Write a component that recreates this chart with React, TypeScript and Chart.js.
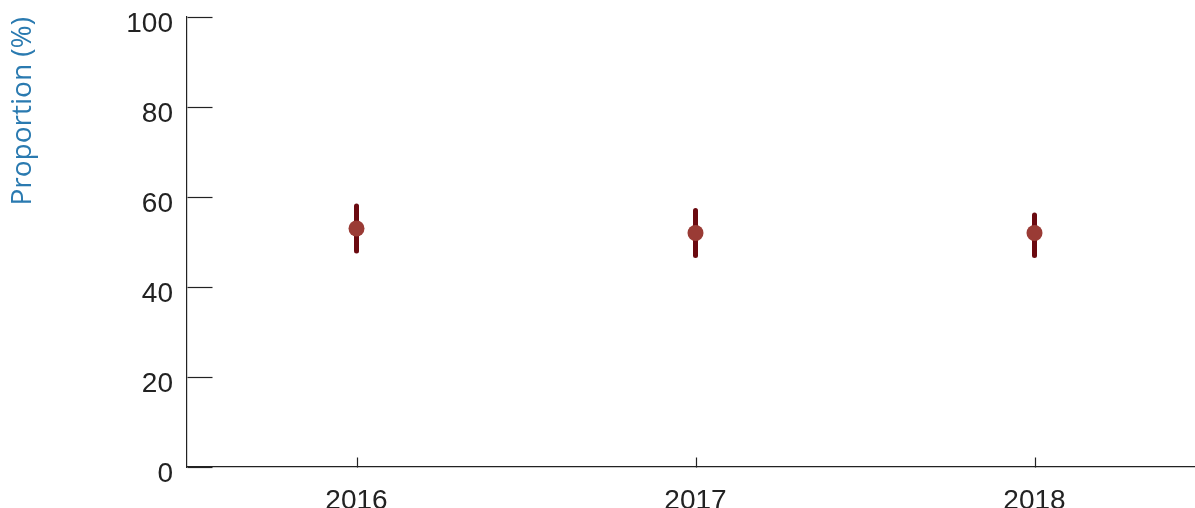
import React, { useEffect, useRef } from "react";
import { Chart, registerables, Plugin } from "chart.js";

Chart.register(...registerables);

// Survey years and the estimated proportion with its confidence interval
const YEARS = ["2016", "2017", "2018"];
const PROPORTION = [53, 52, 52];
const LOWER = [48, 47, 47];
const UPPER = [58, 57, 56];

// Y-axis ticks
const Y_TICKS = [0, 20, 40, 60, 80, 100];

const AXIS_COLOR = "#222222";
const POINT_COLOR = "#9a3b35";
const BAR_COLOR = "#6b0a10";
const TITLE_COLOR = "#2a7ab0";

// Vertical interval bars behind each point
const errorBars: Plugin = {
  id: "errorBars",
  beforeDatasetsDraw(chart) {
    const { ctx } = chart;
    const x = chart.scales.x;
    const y = chart.scales.y;
    ctx.save();
    ctx.strokeStyle = BAR_COLOR;
    ctx.lineWidth = 5;
    ctx.lineCap = "round";
    YEARS.forEach((_, i) => {
      const px = x.getPixelForValue(i);
      ctx.beginPath();
      ctx.moveTo(px, y.getPixelForValue(LOWER[i]));
      ctx.lineTo(px, y.getPixelForValue(UPPER[i]));
      ctx.stroke();
    });
    ctx.restore();
  },
};

// Tick marks pointing into the plot area
const innerTicks: Plugin = {
  id: "innerTicks",
  beforeDatasetsDraw(chart) {
    const { ctx } = chart;
    const x = chart.scales.x;
    const y = chart.scales.y;
    ctx.save();
    ctx.strokeStyle = AXIS_COLOR;
    ctx.lineWidth = 1.2;
    const left = Math.round(x.left) + 0.5;
    Y_TICKS.forEach((v) => {
      const py = Math.round(y.getPixelForValue(v)) + 0.5;
      ctx.beginPath();
      ctx.moveTo(left, py);
      ctx.lineTo(left + 25, py);
      ctx.stroke();
    });
    const bottom = Math.round(y.bottom) + 0.5;
    YEARS.forEach((_, i) => {
      const px = Math.round(x.getPixelForValue(i)) + 0.5;
      ctx.beginPath();
      ctx.moveTo(px, bottom);
      ctx.lineTo(px, bottom - 10);
      ctx.stroke();
    });
    ctx.restore();
  },
};

export default function App() {
  const canvasRef = useRef<HTMLCanvasElement | null>(null);

  useEffect(() => {
    if (!canvasRef.current) return;
    const chart = new Chart(canvasRef.current, {
      type: "line",
      data: {
        labels: YEARS,
        datasets: [
          {
            data: PROPORTION,
            showLine: false,
            pointRadius: 8,
            pointHoverRadius: 8,
            pointBackgroundColor: POINT_COLOR,
            pointBorderWidth: 0,
            borderColor: POINT_COLOR,
          },
        ],
      },
      options: {
        animation: false,
        responsive: false,
        maintainAspectRatio: false,
        layout: { autoPadding: false, padding: { top: 17, right: 0, left: 0, bottom: 0 } },
        plugins: {
          legend: { display: false },
          tooltip: { enabled: false },
        },
        scales: {
          x: {
            type: "category",
            offset: true,
            grid: { display: false, drawTicks: false },
            border: { display: true, color: AXIS_COLOR, width: 1.2 },
            ticks: {
              padding: 17,
              color: AXIS_COLOR,
              font: { family: "'Liberation Sans', Arial, sans-serif", size: 28 },
            },
            afterFit(scale) {
              scale.height = 41;
              scale.paddingLeft = 0;
              scale.paddingRight = 0;
            },
          },
          y: {
            type: "linear",
            min: 0,
            max: 100,
            grid: { display: false, drawTicks: false },
            border: { display: true, color: AXIS_COLOR, width: 1.2 },
            afterBuildTicks(scale) {
              scale.ticks = Y_TICKS.map((value) => ({ value }));
            },
            ticks: {
              padding: 14,
              labelOffset: 7,
              color: AXIS_COLOR,
              font: { family: "'Liberation Sans', Arial, sans-serif", size: 28 },
            },
            title: {
              display: true,
              text: "Proportion (%)",
              align: "end",
              color: TITLE_COLOR,
              padding: { top: 6, bottom: 0 },
              font: { family: "'Open Sans', sans-serif", size: 28 },
            },
            afterFit(scale) {
              scale.width = 187;
              scale.paddingTop = 0;
              scale.paddingBottom = 0;
            },
          },
        },
      },
      plugins: [errorBars, innerTicks],
    });
    return () => chart.destroy();
  }, []);

  return (
    <div
      style={{
        position: "absolute",
        left: 0,
        top: 0,
        width: 1195,
        height: 508,
        overflow: "hidden",
        background: "#ffffff",
      }}
    >
      <canvas ref={canvasRef} width={1204} height={508} style={{ display: "block" }} />
    </div>
  );
}
